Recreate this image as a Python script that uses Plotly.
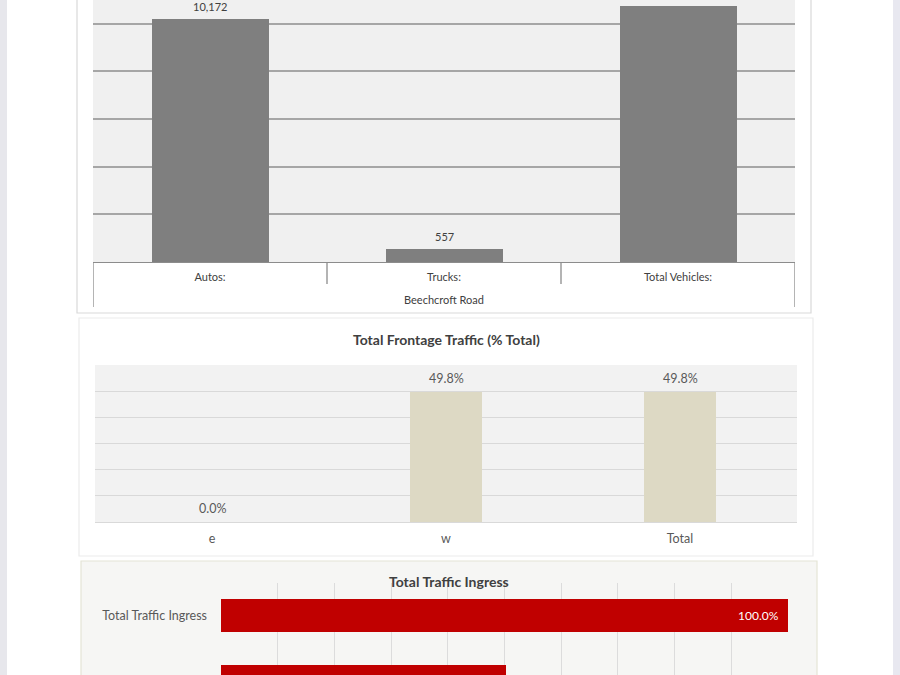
import plotly.graph_objects as go

# ---------------- data ----------------
vehicle_cats = ["Autos:", "Trucks:", "Total Vehicles:"]
vehicle_vals = [10172, 557, 10729]
road_name = "Beechcroft Road"

frontage_cats = ["e", "w", "Total"]
frontage_vals = [0.0, 0.498, 0.498]
frontage_title = "Total Frontage Traffic (% Total)"

ingress_cats = ["Total Traffic Ingress", "w"]
ingress_vals = [1.0, 0.502]
ingress_title = "Total Traffic Ingress"

W, H = 900, 675
FONT = "Lato"


def py(p):
    return 1 - p / H


def px(p):
    return p / W


Y1_MAX = 2000 * 262 / 47.7
Y3_RANGE = [0.9, -0.5]

fig = go.Figure()

# chart 1
fig.add_trace(go.Bar(
    x=vehicle_cats, y=vehicle_vals, xaxis="x", yaxis="y",
    marker=dict(color="#7f7f7f", line=dict(width=0)), width=0.5,
    showlegend=False, hoverinfo="skip"))

# chart 2
fig.add_trace(go.Bar(
    x=frontage_cats, y=frontage_vals, xaxis="x2", yaxis="y2",
    marker=dict(color="#ddd9c4", line=dict(width=0)), width=0.31,
    showlegend=False, hoverinfo="skip"))

# chart 3
fig.add_trace(go.Bar(
    y=ingress_cats, x=ingress_vals, xaxis="x3", yaxis="y3", orientation="h",
    marker=dict(color="#c00000", line=dict(width=0)), width=0.5,
    showlegend=False, hoverinfo="skip"))

shapes = []
annotations = []

# data labels (only those that fall inside the visible page)
for c, v in zip(vehicle_cats, vehicle_vals):
    if v * 1.06 < Y1_MAX:
        annotations.append(dict(text=f"{v:,}", xref="x", yref="y", x=c, y=v,
                                yanchor="bottom", yshift=4, showarrow=False,
                                font=dict(size=11, color="#404040", family=FONT)))
for c, v in zip(frontage_cats, frontage_vals):
    annotations.append(dict(text=f"{v*100:.1f}%", xref="x2", yref="y2", x=c, y=v,
                            yanchor="bottom", yshift=4, showarrow=False,
                            font=dict(size=12.5, color="#595959", family=FONT)))
for i, (c, v) in enumerate(zip(ingress_cats, ingress_vals)):
    if i < Y3_RANGE[0] - 0.2:
        annotations.append(dict(text=f"{v*100:.1f}%", xref="x3", yref="y3", x=v, y=c,
                                xanchor="right", xshift=-7, showarrow=False,
                                font=dict(size=12, color="#ffffff", family=FONT)))

# page side strips
shapes.append(dict(type="rect", xref="paper", yref="paper", x0=0, x1=px(7), y0=0, y1=1,
                   fillcolor="#e7e7ec", line=dict(width=0), layer="below"))
shapes.append(dict(type="rect", xref="paper", yref="paper", x0=px(893), x1=1, y0=0, y1=1,
                   fillcolor="#e8e8f0", line=dict(width=0), layer="below"))

# card 1
shapes.append(dict(type="rect", xref="paper", yref="paper", x0=px(77), x1=px(811),
                   y0=py(313), y1=py(-5), fillcolor="#ffffff",
                   line=dict(color="#d9d9d9", width=1.2), layer="below"))
# card 2
shapes.append(dict(type="rect", xref="paper", yref="paper", x0=px(79), x1=px(813),
                   y0=py(556), y1=py(318), fillcolor="#ffffff",
                   line=dict(color="#ececec", width=1.2), layer="below"))
# card 3
shapes.append(dict(type="rect", xref="paper", yref="paper", x0=px(81), x1=px(817),
                   y0=py(690), y1=py(561), fillcolor="#f6f6f4",
                   line=dict(color="#e4e4d6", width=1.2), layer="below"))

# chart 1 category table lines
n = len(vehicle_cats)
for i in range(n + 1):
    outer = i == 0 or i == n
    shapes.append(dict(type="line", xref="x", yref="paper", x0=i - 0.5, x1=i - 0.5,
                       y0=py(307 if outer else 284), y1=py(262),
                       line=dict(color="#8c8c8c", width=1.3)))
annotations.append(dict(text=road_name, xref="x", yref="paper", x=(n - 1) / 2, y=py(299),
                        showarrow=False, font=dict(size=11, color="#404040", family=FONT),
                        yanchor="middle"))

# titles
annotations.append(dict(text=f"<b>{frontage_title}</b>", xref="paper", yref="paper",
                        x=px(446), y=py(339), showarrow=False, yanchor="middle",
                        font=dict(size=14, color="#404040", family=FONT)))
annotations.append(dict(text=f"<b>{ingress_title}</b>", xref="paper", yref="paper",
                        x=px(449), y=py(581), showarrow=False, yanchor="middle",
                        font=dict(size=14, color="#404040", family=FONT)))

fig.update_layout(
    width=W, height=H, margin=dict(l=0, r=0, t=0, b=0),
    paper_bgcolor="#ffffff", plot_bgcolor="rgba(0,0,0,0)",
    font=dict(family=FONT, color="#404040"),
    bargap=0,
    shapes=shapes, annotations=annotations,
    xaxis=dict(domain=[px(93), px(795)], type="category", range=[-0.5, n - 0.5],
               anchor="y", showline=True, linecolor="#8c8c8c", linewidth=1.3, ticks="",
               showgrid=False, tickfont=dict(size=11, color="#404040", family=FONT),
               ticklabelstandoff=5, fixedrange=True),
    yaxis=dict(domain=[py(262), 1], range=[0, Y1_MAX], dtick=2000,
               anchor="x", showticklabels=False, showgrid=True, gridcolor="#a6a6a6",
               gridwidth=1.5, zeroline=False, showline=False, fixedrange=True),
    xaxis2=dict(domain=[px(95), px(797)], type="category", range=[-0.5, 2.5],
                anchor="y2", showline=False, ticks="", showgrid=False,
                tickfont=dict(size=12.5, color="#595959", family=FONT),
                ticklabelstandoff=7, fixedrange=True),
    yaxis2=dict(domain=[py(522), py(365)], range=[0, 0.6], dtick=0.1, anchor="x2",
                showticklabels=False, showgrid=True, gridcolor="#d9d9d9", gridwidth=1.2,
                zeroline=True, zerolinecolor="#d9d9d9", zerolinewidth=1.2, fixedrange=True),
    xaxis3=dict(domain=[px(221), px(788)], range=[0, 1], dtick=0.1, showticklabels=False,
                showgrid=True, gridcolor="#dcdcdc", gridwidth=1.2, zeroline=False,
                anchor="y3", fixedrange=True),
    yaxis3=dict(domain=[0, py(583)], type="category", range=Y3_RANGE, anchor="x3",
                showline=False, ticks="", showgrid=False,
                tickfont=dict(size=12.5, color="#595959", family=FONT),
                ticklabelstandoff=13, fixedrange=True),
)

# plot area backgrounds (drawn below traces)
fig.add_shape(type="rect", xref="x domain", yref="y domain", x0=0, x1=1, y0=0, y1=1,
              fillcolor="#f0f0f0", line=dict(width=0), layer="below")
fig.add_shape(type="rect", xref="x2 domain", yref="y2 domain", x0=0, x1=1, y0=0, y1=1,
              fillcolor="#f2f2f2", line=dict(width=0), layer="below")

fig.write_html(
    "out.html",
    config={"displayModeBar": False},
    post_script="document.body.style.margin='0px';document.body.style.overflow='hidden';",
)
